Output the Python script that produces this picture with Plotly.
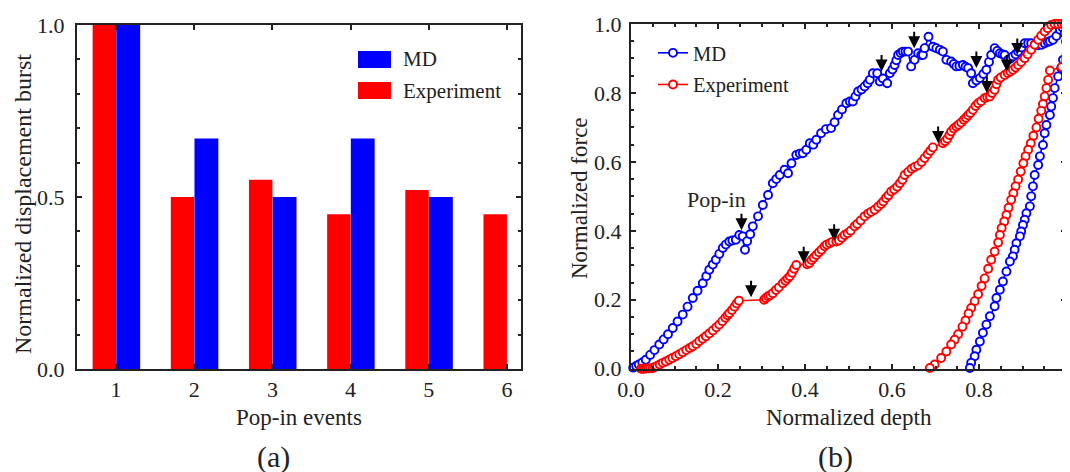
import plotly.graph_objects as go

# ---------------- data: panel (a) ----------------
events = [1, 2, 3, 4, 5, 6]
event_labels = ["1", "2", "3", "4", "5", "6"]
md_burst = [1.0, 0.67, 0.50, 0.67, 0.50, None]
exp_burst = [1.0, 0.50, 0.55, 0.45, 0.52, 0.45]

# ---------------- data: panel (b) ----------------
md_load_depth = [0.005, 0.012, 0.018, 0.026, 0.034, 0.044, 0.054, 0.065, 0.075, 0.085,
                 0.096, 0.107, 0.119, 0.13, 0.142, 0.153, 0.165, 0.173, 0.18, 0.188,
                 0.195, 0.203, 0.211, 0.218, 0.226, 0.233, 0.241, 0.249, 0.257, 0.262,
                 0.267, 0.274, 0.28, 0.292, 0.303, 0.315, 0.326, 0.334, 0.342, 0.353,
                 0.361, 0.369, 0.38, 0.388, 0.395, 0.403, 0.411, 0.419, 0.426, 0.437,
                 0.448, 0.46, 0.468, 0.476, 0.485, 0.495, 0.503, 0.51, 0.516, 0.522,
                 0.53, 0.537, 0.544, 0.549, 0.556, 0.566, 0.572, 0.579, 0.589, 0.595,
                 0.601, 0.606, 0.61, 0.614, 0.62, 0.625, 0.631, 0.637, 0.644, 0.652,
                 0.66, 0.667, 0.671, 0.675, 0.684, 0.694, 0.702, 0.71, 0.717, 0.725,
                 0.736, 0.742, 0.748, 0.755, 0.763, 0.769, 0.775, 0.782, 0.786, 0.794,
                 0.802, 0.81, 0.817, 0.823, 0.828, 0.836, 0.842, 0.848, 0.854, 0.859,
                 0.867, 0.872, 0.878, 0.884, 0.89, 0.898, 0.905, 0.913, 0.92, 0.928,
                 0.936, 0.944, 0.951, 0.958, 0.963, 0.97, 0.978, 0.986, 0.992, 0.997, 1.0]
md_load_force = [0.003, 0.008, 0.012, 0.018, 0.026, 0.04, 0.054, 0.07, 0.085, 0.1,
                 0.118, 0.137, 0.157, 0.18, 0.205, 0.226, 0.248, 0.268, 0.287, 0.302,
                 0.316, 0.333, 0.35, 0.36, 0.369, 0.372, 0.374, 0.388, 0.384, 0.345,
                 0.37, 0.39, 0.413, 0.442, 0.475, 0.504, 0.538, 0.55, 0.562, 0.577,
                 0.567, 0.596, 0.62, 0.624, 0.625, 0.635, 0.654, 0.65, 0.664, 0.683,
                 0.695, 0.698, 0.715, 0.736, 0.752, 0.77, 0.775, 0.775, 0.79, 0.804,
                 0.81, 0.819, 0.828, 0.838, 0.857, 0.857, 0.833, 0.842, 0.828, 0.857,
                 0.868, 0.881, 0.895, 0.91, 0.916, 0.92, 0.92, 0.92, 0.877, 0.896,
                 0.915, 0.91, 0.91, 0.93, 0.963, 0.934, 0.93, 0.925, 0.92, 0.896,
                 0.891, 0.884, 0.877, 0.878, 0.881, 0.876, 0.872, 0.857, 0.828, 0.836,
                 0.843, 0.855, 0.867, 0.89, 0.91, 0.93, 0.922, 0.915, 0.912, 0.91,
                 0.896, 0.9, 0.906, 0.912, 0.92, 0.932, 0.944, 0.944, 0.944, 0.94,
                 0.938, 0.94, 0.944, 0.948, 0.95, 0.954, 0.965, 0.983, 0.99, 0.973, 0.949]
md_unload_depth = [0.993, 0.989, 0.982, 0.974, 0.97, 0.966, 0.963, 0.955, 0.951, 0.947,
                   0.94, 0.936, 0.928, 0.924, 0.92, 0.917, 0.909, 0.905, 0.901, 0.897,
                   0.894, 0.886, 0.882, 0.878, 0.871, 0.863, 0.855, 0.848, 0.84, 0.836,
                   0.825, 0.817, 0.809, 0.802, 0.794, 0.79, 0.782, 0.779]
md_unload_force = [0.896, 0.872, 0.848, 0.814, 0.785, 0.761, 0.736, 0.707, 0.683, 0.649,
                   0.616, 0.591, 0.562, 0.529, 0.5, 0.471, 0.451, 0.432, 0.417, 0.398,
                   0.384, 0.364, 0.345, 0.326, 0.311, 0.282, 0.253, 0.229, 0.205, 0.181,
                   0.152, 0.128, 0.104, 0.079, 0.055, 0.036, 0.017, 0.002]

exp_load_depth = [0.023, 0.027, 0.031, 0.035, 0.039, 0.044, 0.05, 0.055, 0.06, 0.066,
                  0.073, 0.08, 0.088, 0.095, 0.103, 0.111, 0.119, 0.127, 0.135, 0.142,
                  0.15, 0.157, 0.165, 0.172, 0.18, 0.188, 0.196, 0.203, 0.21, 0.217,
                  0.222, 0.226, 0.232, 0.238, 0.243, 0.248, 0.306, 0.31, 0.315, 0.32,
                  0.326, 0.333, 0.34, 0.349, 0.355, 0.36, 0.365, 0.37, 0.375, 0.38,
                  0.405, 0.41, 0.415, 0.42, 0.426, 0.432, 0.438, 0.445, 0.45, 0.457,
                  0.463, 0.472, 0.478, 0.485, 0.491, 0.498, 0.505, 0.514, 0.52, 0.528,
                  0.537, 0.545, 0.552, 0.56, 0.568, 0.575, 0.58, 0.586, 0.592, 0.598,
                  0.605, 0.612, 0.618, 0.624, 0.629, 0.637, 0.645, 0.652, 0.66, 0.668,
                  0.675, 0.682, 0.688, 0.694, 0.717, 0.722, 0.727, 0.732, 0.736, 0.742,
                  0.748, 0.753, 0.759, 0.765, 0.77, 0.775, 0.78, 0.786, 0.792, 0.798,
                  0.805, 0.813, 0.819, 0.825, 0.83, 0.836, 0.84, 0.844, 0.85, 0.859,
                  0.866, 0.872, 0.878, 0.884, 0.89, 0.897, 0.905, 0.912, 0.92, 0.928,
                  0.936, 0.943, 0.951, 0.958, 0.966, 0.974, 0.982, 0.99, 0.997]
exp_load_force = [0.0, 0.0, 0.0, 0.001, 0.001, 0.001, 0.002, 0.005, 0.008, 0.012,
                  0.017, 0.021, 0.026, 0.031, 0.036, 0.042, 0.048, 0.054, 0.06, 0.065,
                  0.072, 0.08, 0.087, 0.094, 0.102, 0.111, 0.12, 0.128, 0.138, 0.148,
                  0.155, 0.161, 0.17, 0.18, 0.189, 0.197, 0.2, 0.205, 0.21, 0.213,
                  0.219, 0.228, 0.236, 0.248, 0.255, 0.262, 0.268, 0.278, 0.29, 0.301,
                  0.303, 0.307, 0.315, 0.322, 0.33, 0.338, 0.345, 0.355, 0.36, 0.364,
                  0.368, 0.369, 0.372, 0.38, 0.388, 0.393, 0.4, 0.413, 0.42, 0.43,
                  0.442, 0.45, 0.455, 0.461, 0.47, 0.478, 0.485, 0.495, 0.503, 0.514,
                  0.52, 0.528, 0.538, 0.548, 0.562, 0.571, 0.58, 0.585, 0.59, 0.6,
                  0.611, 0.622, 0.632, 0.642, 0.654, 0.66, 0.667, 0.678, 0.688, 0.697,
                  0.703, 0.708, 0.714, 0.722, 0.728, 0.735, 0.742, 0.751, 0.762, 0.77,
                  0.776, 0.785, 0.788, 0.79, 0.8, 0.809, 0.825, 0.838, 0.845, 0.852,
                  0.858, 0.862, 0.867, 0.874, 0.881, 0.89, 0.901, 0.912, 0.925, 0.94,
                  0.954, 0.966, 0.978, 0.988, 0.997, 1.0, 1.0, 1.0, 1.0]
exp_unload_depth = [0.99, 0.963, 0.959, 0.955, 0.951, 0.947, 0.943, 0.937, 0.932, 0.925,
                    0.919, 0.913, 0.907, 0.902, 0.896, 0.89, 0.884, 0.879, 0.874, 0.868,
                    0.863, 0.858, 0.852, 0.848, 0.844, 0.836, 0.828, 0.821, 0.813, 0.806,
                    0.798, 0.79, 0.782, 0.776, 0.769, 0.762, 0.752, 0.744, 0.736, 0.725,
                    0.713, 0.698, 0.687]
exp_unload_force = [0.875, 0.865, 0.838, 0.814, 0.79, 0.768, 0.748, 0.725, 0.7, 0.676,
                    0.654, 0.635, 0.616, 0.596, 0.572, 0.549, 0.529, 0.509, 0.49, 0.467,
                    0.446, 0.427, 0.408, 0.388, 0.366, 0.34, 0.316, 0.29, 0.262, 0.24,
                    0.216, 0.196, 0.176, 0.16, 0.14, 0.122, 0.1, 0.084, 0.07, 0.05,
                    0.031, 0.012, 0.002]

# pop-in arrow tips (depth, force)
popin_depth = [0.254, 0.276, 0.397, 0.467, 0.576, 0.651, 0.706, 0.794, 0.818, 0.864, 0.888]
popin_force = [0.402, 0.207, 0.306, 0.371, 0.862, 0.93, 0.655, 0.872, 0.8, 0.862, 0.91]

BLUE = "#0000ff"
RED = "#ff0000"
INK = "#222222"
FONT = "Liberation Serif"
W, H = 1070, 472


def px(x):
    return x / W


def py(y):
    return 1 - y / H


fig = go.Figure()

# panel (a) bars
fig.add_trace(go.Bar(x=events, y=exp_burst, width=0.3, offset=-0.3, name="Experiment",
                     marker=dict(color=RED, line=dict(width=0)), showlegend=False,
                     xaxis="x", yaxis="y"))
fig.add_trace(go.Bar(x=events, y=md_burst, width=0.305, offset=0.003, name="MD",
                     marker=dict(color=BLUE, line=dict(width=0)), showlegend=False,
                     xaxis="x", yaxis="y"))

# panel (b) curves
fig.add_trace(go.Scatter(x=md_load_depth + md_unload_depth, y=md_load_force + md_unload_force,
                         mode="lines+markers", name="MD", line=dict(color=BLUE, width=1.6),
                         marker=dict(symbol="circle", size=8, color="white",
                                     line=dict(color=BLUE, width=1.9)),
                         cliponaxis=False, xaxis="x2", yaxis="y2", legendgroup="md"))
fig.add_trace(go.Scatter(x=exp_load_depth + exp_unload_depth, y=exp_load_force + exp_unload_force,
                         mode="lines+markers", name="Experiment", line=dict(color=RED, width=1.6),
                         marker=dict(symbol="circle", size=8, color="white",
                                     line=dict(color=RED, width=1.9)),
                         cliponaxis=False, xaxis="x2", yaxis="y2", legendgroup="exp"))


def axis_style(**kw):
    d = dict(showline=True, linewidth=2, linecolor=INK, mirror="allticks",
             ticks="inside", ticklen=5, tickwidth=1.5, tickcolor=INK,
             showgrid=False, zeroline=False, automargin=False,
             tickfont=dict(family=FONT, size=22, color=INK))
    d.update(kw)
    return d


def label(text, x, y, size, angle=0, xanchor="center"):
    return dict(text=text, x=px(x), y=py(y), xref="paper", yref="paper",
                xanchor=xanchor, yanchor="middle", showarrow=False, textangle=angle,
                font=dict(family=FONT, size=size, color=INK))


annotations = []
for dx, fy in zip(popin_depth, popin_force):
    annotations.append(dict(x=dx, y=fy, xref="x2", yref="y2", text="", showarrow=True,
                            ax=0, ay=-18, arrowhead=2, arrowsize=1.2, arrowwidth=2,
                            arrowcolor="black", standoff=0))

annotations += [
    label("Normalized displacement burst", 15, 196, 24, angle=-90),
    label("Pop-in events", 291, 409, 23),
    label("Normalized force", 571, 190, 23, angle=-90),
    label("Normalized depth", 841, 409, 23),
    label("(a)", 265, 449, 30),
    label("(b)", 827, 449, 30),
    label("MD", 393, 51.5, 21, xanchor="left"),
    label("Experiment", 393, 82.5, 21, xanchor="left"),
    dict(text="Pop-in", x=0.196, y=0.49, xref="x2", yref="y2", showarrow=False,
         xanchor="center", yanchor="middle", font=dict(family=FONT, size=22, color=INK)),
]

shapes = [
    dict(type="rect", xref="paper", yref="paper", x0=px(350), x1=px(383), y0=py(60), y1=py(43),
         fillcolor=BLUE, line=dict(width=0)),
    dict(type="rect", xref="paper", yref="paper", x0=px(350), x1=px(383), y0=py(91), y1=py(74),
         fillcolor=RED, line=dict(width=0)),
]

minor_b = dict(dtick=0.05, ticks="inside", ticklen=3, tickwidth=1.5, tickcolor=INK)

fig.update_layout(
    width=W, height=H,
    margin=dict(l=0, r=0, t=0, b=0),
    paper_bgcolor="white", plot_bgcolor="rgba(0,0,0,0)",
    barmode="overlay",
    font=dict(family=FONT, color=INK),
    xaxis=axis_style(domain=[px(69), px(513)], range=[0.5, 6.18], tickmode="array",
                     tickvals=events, ticktext=event_labels, anchor="y"),
    yaxis=axis_style(domain=[py(361), py(17)], range=[0, 1], tickmode="linear", tick0=0,
                     dtick=0.5, tickformat=".1f", anchor="x", ticklabelstandoff=6,
                     minor=dict(dtick=0.1, ticks="inside", ticklen=3, tickwidth=1.5,
                                tickcolor=INK)),
    xaxis2=axis_style(domain=[px(623), px(1058)], range=[0, 1], tickmode="linear", tick0=0,
                      dtick=0.2, tickformat=".1f", anchor="y2", minor=minor_b),
    yaxis2=axis_style(domain=[py(360.7), py(16)], range=[0, 1], tickmode="linear", tick0=0,
                      dtick=0.2, tickformat=".1f", anchor="x2", ticklabelstandoff=3,
                      minor=minor_b),
    legend=dict(x=px(645), y=py(25), xanchor="left", yanchor="top",
                bgcolor="rgba(0,0,0,0)", font=dict(family=FONT, size=20.5, color=INK),
                traceorder="grouped", tracegroupgap=2, itemwidth=30),
    annotations=annotations,
    shapes=shapes,
)

fig.write_html("out.html")
